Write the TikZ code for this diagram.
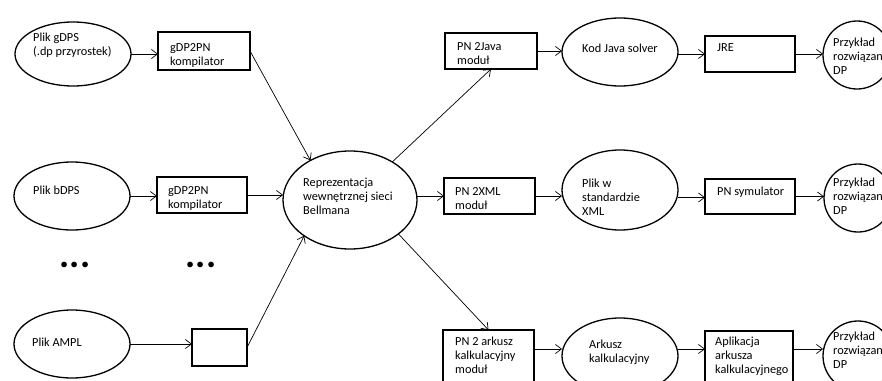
\documentclass[tikz,border=0pt]{standalone}
\usepackage{fontspec}
\setmainfont{Carlito}
\usetikzlibrary{shapes.geometric,arrows.meta}
\begin{document}
\begin{tikzpicture}[x=1pt,y=-1pt,
 ell/.style={ellipse,draw,line width=1.3pt,inner sep=0pt,outer sep=0pt},
 circ/.style={circle,draw,line width=1.3pt,inner sep=0pt,outer sep=0pt,minimum size=68pt},
 box/.style={rectangle,draw,line width=1.1pt,inner sep=0pt,outer sep=0pt,anchor=north west},
 txt/.style={anchor=west,align=left,inner sep=0pt,font=\fontsize{12.3}{14}\selectfont},
 dots/.style={inner sep=0pt,font=\fontsize{38}{38}\selectfont\bfseries},
 arr/.style={-{Straight Barb[length=6pt,width=9pt]},line width=0.7pt}]
\useasboundingbox (0,0) rectangle (882,380);
\clip (0,0) rectangle (882,380);

% left column ellipses
\node (e1) [ell, minimum width=116pt, minimum height=64pt] at (73,54) {};
\node (e2) [ell, minimum width=116pt, minimum height=68pt] at (72,196) {};
\node (e3) [ell, minimum width=116pt, minimum height=68pt] at (72,344) {};
\node (t1) [txt] at (33,45.5) {Plik gDPS\\(.dp przyrostek)};
\node (t2) [txt] at (33,190) {Plik bDPS};
\node (t3) [txt] at (32,342) {Plik AMPL};

% compilers
\node (b1) [box, minimum width=92pt, minimum height=38pt] at (158,32) {};
\node (b2) [box, minimum width=90pt, minimum height=36pt] at (157,177) {};
\node (b3) [box, minimum width=55pt, minimum height=37pt] at (192,329) {};
\node (tb1) [txt] at (170,55) {gDP2PN\\kompilator};
\node (tb2) [txt] at (168,198.5) {gDP2PN\\kompilator};

\node (d1) [dots] at (75,265) {...};
\node (d2) [dots] at (201,265) {...};

% Bellman
\node (eB) [ell, minimum width=134pt, minimum height=98pt] at (350,200) {};
\node (tB) [txt] at (303,196) {Reprezentacja\\wewnętrznej sieci\\Bellmana};

% modules
\node (bJ) [box, minimum width=92pt, minimum height=36pt] at (445,33) {};
\node (bX) [box, minimum width=91pt, minimum height=36pt] at (444,178) {};
\node (bA) [box, minimum width=91pt, minimum height=70pt] at (443,330) {};
\node (tJ) [txt] at (457,54) {PN 2Java\\moduł};
\node (tX) [txt] at (455,198.5) {PN 2XML\\moduł};
\node (tA) [txt] at (455,355.5) {PN 2 arkusz\\kalkulacyjny\\moduł};

% intermediate ellipses
\node (eJ) [ell, minimum width=116pt, minimum height=68pt] at (620,52) {};
\node (eX) [ell, minimum width=116pt, minimum height=80pt] at (620,190) {};
\node (eA) [ell, minimum width=116pt, minimum height=76pt] at (620,356) {};
\node (teJ) [txt] at (582,48) {Kod Java solver};
\node (teX) [txt] at (582,197.5) {Plik w\\standardzie\\XML};
\node (teA) [txt] at (589,352) {Arkusz\\kalkulacyjny};

% runtimes
\node (bR) [box, minimum width=90pt, minimum height=36pt] at (705,36) {};
\node (bS) [box, minimum width=90pt, minimum height=35pt] at (705,179) {};
\node (bL) [box, minimum width=88pt, minimum height=70pt] at (705,331) {};
\node (tR) [txt] at (717,48) {JRE};
\node (tS) [txt] at (717,192) {PN symulator};
\node (tL) [txt] at (715,356.5) {Aplikacja\\arkusza\\kalkulacyjnego};

% results
\node (c1) [circ] at (857,55) {};
\node (c2) [circ] at (858,198) {};
\node (c3) [circ, minimum size=70pt] at (858,356) {};
\node (tc1) [txt] at (833,56) {Przykład\\rozwiązan\\DP};
\node (tc2) [txt] at (833,196.5) {Przykład\\rozwiązan\\DP};
\node (tc3) [txt] at (833,350.5) {Przykład\\rozwiązan\\DP};

% helper coordinates
\path (bA.east |- eA.west) ++(0,-7) coordinate (aA);
\path (eX.east |- bS.west) ++(0,1) coordinate (aS);
\path (eA.east |- aA) coordinate (aL);
\path (bL.east |- aA) coordinate (aC);

% connectors
\draw[arr] (e1.east) -- (e1.east -| b1.west);
\draw[arr] (e2.east) -- (e2.east -| b2.west);
\draw[arr] (e3.east) -- (e3.east -| b3.west);
\draw[arr] (b1.east) -- (eB.135);
\draw[arr] (b2.east) -- (b2.east -| eB.west);
\draw[arr] (b3.east) -- (eB.218);
\draw[arr] (eB.42) -- (bJ.south);
\draw[arr] (eB.east |- bX.west) -- (bX.west);
\draw[arr] (eB.325) -- (bA.north);
\draw[arr] (bJ.east) -- (bJ.east -| eJ.west);
\draw[arr] (bX.east) -- (bX.east -| eX.west);
\draw[arr] (aA) -- (aA -| eA.west);
\draw[arr] (eJ.east |- bR.east) -- (bR.west);
\draw[arr] (aS) -- (aS -| bS.west);
\draw[arr] (aL) -- (aL -| bL.west);
\draw[arr] (bR.east) -- (bR.east -| c1.west);
\draw[arr] (bS.east) -- (bS.east -| c2.west);
\draw[arr] (aC) -- (aC -| c3.west);
\end{tikzpicture}
\end{document}
